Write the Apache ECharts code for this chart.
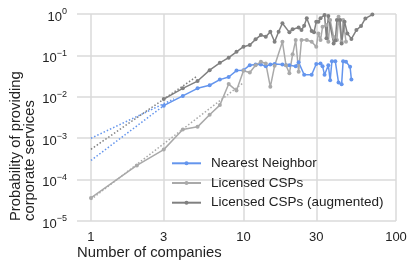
<!DOCTYPE html>
<html>
<head>
<meta charset="utf-8">
<script src="https://cdn.jsdelivr.net/npm/echarts@6/dist/echarts.min.js"></script>
<style>
html,body{margin:0;padding:0;background:#fff;}
#c{width:415px;height:268px;}
</style>
</head>
<body>
<div id="c"></div>
<script>
// ---- data ----
const xTickValues = [1, 3, 10, 30, 100];
const xMinValue = 0.81;
const yTickExponents = [-5, -4, -3, -2, -1, 0];

const nnN = [3,4,5,6,7,8,9,10,11,12,13,14,15,16,18,19,20,22,23,25,28,30,32,33,34,36,37,38,40,42,44,45,47,50,51];
const nnP = [0.0061,0.0105,0.016,0.019,0.026,0.030,0.043,0.044,0.058,0.060,0.060,0.055,0.060,0.062,0.060,0.058,0.058,0.055,0.068,0.034,0.034,0.062,0.064,0.055,0.034,0.058,0.025,0.072,0.072,0.022,0.020,0.072,0.070,0.053,0.026];

const licN = [1,2,3,4,5,6,7,8,9,10,11,12,13,14,15,16,18,19,20,21,22,23,24,26,28,30,31,32,33,35,36,37,39,41,42,44,45,47];
const licP = [3.6e-5,2.2e-4,5.3e-4,1.63e-3,1.88e-3,3.7e-3,6.3e-3,0.0203,0.0141,0.0425,0.0385,0.058,0.070,0.064,0.0174,0.056,0.214,0.058,0.037,0.106,0.235,0.040,0.235,0.235,0.214,0.162,0.34,0.235,0.49,0.54,0.214,0.72,0.28,0.235,0.86,0.214,0.72,0.214];

const augN = [3,4,5,6,7,8,9,10,11,12,13,14,15,16,17,18,20,21,23,24,25,26,28,29,30,31,32,34,35,36,39,40,41,43,44,46,48,51,55,59,63,70];
const augP = [0.0088,0.016,0.024,0.044,0.066,0.088,0.122,0.162,0.178,0.244,0.31,0.283,0.373,0.214,0.373,0.60,0.36,0.43,0.47,0.41,0.52,0.79,0.39,0.36,0.65,0.65,0.79,0.95,0.26,0.89,0.195,0.23,0.72,0.72,0.195,0.65,0.34,0.25,0.41,0.51,0.78,0.97];

// dotted fit lines: [n start, n end], [p start, p end]
const fitNNupperN = [1, 3.5];  const fitNNupperP = [1.0e-3, 8.9e-3];
const fitNNlowerN = [1, 3];    const fitNNlowerP = [2.9e-4, 6.1e-3];
const fitAugN = [1, 5];        const fitAugP = [5.4e-4, 0.032];
const fitLicN = [1, 10];       const fitLicP = [3.3e-5, 0.022];

const names = ['Nearest Neighbor', 'Licensed CSPs', 'Licensed CSPs (augmented)'];
const colors = ['#6495ED', '#A9A9A9', '#808080'];

// ---- build ----
const L = Math.log10;
const pts = (ns, ps) => ns.map((n, i) => [L(n), L(ps[i])]);
const FONT = '"Liberation Sans", Arial, sans-serif';

function solid(name, color, ns, ps) {
  return {
    name, type: 'line', data: pts(ns, ps),
    symbol: 'circle', symbolSize: 4, showSymbol: true,
    itemStyle: { color }, lineStyle: { color, width: 1.5 },
    animation: false, z: 3
  };
}
function dotted(color, ns, ps) {
  return {
    type: 'line', data: pts(ns, ps), symbol: 'none',
    lineStyle: { color, width: 1.5, type: [1.5, 2] },
    animation: false, z: 2, silent: true
  };
}

const chart = echarts.init(document.getElementById('c'), null, { renderer: 'canvas' });
chart.setOption({
  backgroundColor: '#fff',
  animation: false,
  grid: { left: 77, right: 19, top: 14, bottom: 47 },
  xAxis: {
    type: 'value', min: L(xMinValue), max: L(100),
    axisLine: { show: false }, axisTick: { show: false, customValues: xTickValues.map(L) },
    splitLine: { show: true, lineStyle: { color: '#dadada', width: 1.5 } },
    axisLabel: {
      customValues: xTickValues.map(L), margin: 10,
      formatter: v => String(Math.round(Math.pow(10, v))),
      color: '#222', fontSize: 13, fontFamily: FONT
    }
  },
  yAxis: {
    type: 'value', min: -5, max: 0, interval: 1,
    axisLine: { show: false }, axisTick: { show: false },
    splitLine: { show: true, lineStyle: { color: '#dadada', width: 1.5 } },
    axisLabel: {
      margin: 10,
      formatter: v => '{b|10}{s|' + (v === 0 ? '0' : '\u2212' + (-v)) + '}',
      rich: {
        b: { fontSize: 13, lineHeight: 13, padding: [6, 0, 0, 0], color: '#222', fontFamily: FONT },
        s: { fontSize: 9, lineHeight: 9, verticalAlign: 'top', color: '#222', fontFamily: FONT }
      }
    }
  },
  legend: {
    data: names, orient: 'vertical', left: 171, top: 156.3,
    itemWidth: 29, itemHeight: 5, itemGap: 5.7, padding: 0,
    textStyle: { fontSize: 13.5, lineHeight: 14, color: '#222', fontFamily: FONT, padding: [0, 0, 0, 5] }
  },
  graphic: [
    { type: 'text', x: 77, y: 252.5, silent: true,
      style: { text: 'Number of companies', font: '14.8px ' + FONT, fill: '#222',
               textAlign: 'left', textVerticalAlign: 'middle', align: 'left', verticalAlign: 'middle' } },
    { type: 'text', x: 23, y: 221, rotation: Math.PI / 2, silent: true,
      style: { text: 'Probability of providing\ncorporate services', font: '14.8px ' + FONT, fill: '#222',
               lineHeight: 14, textAlign: 'left', textVerticalAlign: 'middle', align: 'left', verticalAlign: 'middle' } }
  ],
  series: [
    dotted(colors[0], fitNNupperN, fitNNupperP),
    dotted(colors[0], fitNNlowerN, fitNNlowerP),
    dotted(colors[1], fitLicN, fitLicP),
    dotted(colors[2], fitAugN, fitAugP),
    solid(names[0], colors[0], nnN, nnP),
    solid(names[1], colors[1], licN, licP),
    solid(names[2], colors[2], augN, augP)
  ]
});
</script>
</body>
</html>
